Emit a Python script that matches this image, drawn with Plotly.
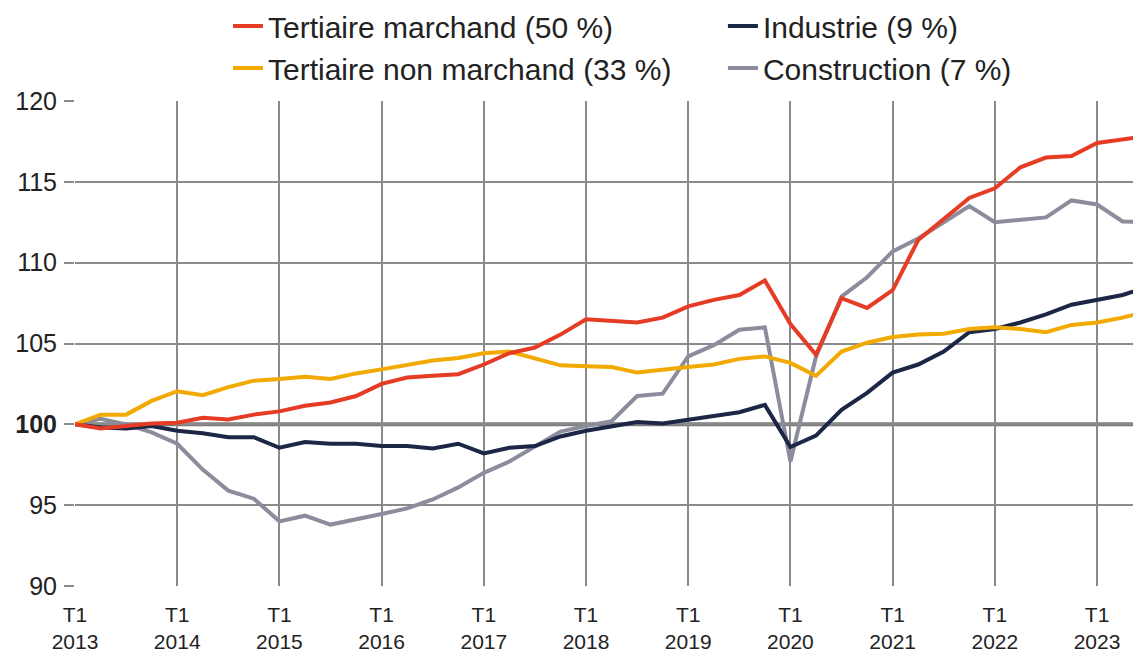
import plotly.graph_objects as go

years = list(range(2013, 2024))
quarters = [f"T{q} {y}" for y in years for q in range(1, 5)][:43]

tertiaire_marchand = [100, 99.75, 99.9, 100.05, 100.1, 100.4, 100.3, 100.6, 100.8, 101.15,
                      101.35, 101.75, 102.5, 102.9, 103.0, 103.1, 103.7, 104.4, 104.75, 105.55,
                      106.5, 106.4, 106.3, 106.6, 107.3, 107.7, 108.0, 108.9, 106.2, 104.3,
                      107.8, 107.2, 108.3, 111.4, 112.7, 114.0, 114.6, 115.9, 116.5, 116.6,
                      117.4, 117.65, 117.85]
industrie = [100, 99.8, 99.75, 99.9, 99.6, 99.45, 99.2, 99.2, 98.55, 98.9,
             98.8, 98.8, 98.66, 98.66, 98.5, 98.8, 98.2, 98.55, 98.66, 99.25,
             99.6, 99.9, 100.15, 100.05, 100.3, 100.5, 100.75, 101.2, 98.6, 99.3,
             100.9, 101.95, 103.2, 103.7, 104.5, 105.7, 105.9, 106.3, 106.8, 107.4,
             107.7, 108.0, 108.5]
tertiaire_non_marchand = [100, 100.6, 100.6, 101.45, 102.05, 101.8, 102.3, 102.7, 102.8, 102.95,
                          102.8, 103.15, 103.4, 103.7, 103.95, 104.1, 104.4, 104.5, 104.1, 103.65,
                          103.6, 103.55, 103.2, 103.4, 103.55, 103.7, 104.05, 104.2, 103.8, 103.0,
                          104.5, 105.05, 105.4, 105.55, 105.6, 105.9, 106.0, 105.9, 105.7, 106.15,
                          106.3, 106.6, 107.0]
construction = [100, 100.35, 100.0, 99.5, 98.8, 97.2, 95.9, 95.4, 94.0, 94.35,
                93.8, 94.1, 94.45, 94.8, 95.35, 96.1, 97.0, 97.7, 98.6, 99.55,
                99.9, 100.2, 101.75, 101.9, 104.2, 104.9, 105.85, 106.0, 97.7, 104.2,
                107.9, 109.1, 110.7, 111.5, 112.5, 113.5, 112.5, 112.65, 112.8, 113.85,
                113.6, 112.55, 112.5]

names = ["Tertiaire marchand (50 %)", "Industrie (9 %)",
         "Tertiaire non marchand (33 %)", "Construction (7 %)"]

y_ticks = [90, 95, 100, 105, 110, 115, 120]
y_ticktext = ["90", "95", "<b>100</b>", "105", "110", "115", "120"]
BASE = 100

x = list(range(len(quarters)))
x_tickvals = [i for i, q in enumerate(quarters) if q.startswith("T1")]
x_ticktext = [quarters[i].replace(" ", "<br>") for i in x_tickvals]

FONT = "Liberation Sans, Arial, sans-serif"

fig = go.Figure()
series = [
    (construction, names[3], "#8C8D9C", "legend4"),
    (industrie, names[1], "#1C2645", "legend2"),
    (tertiaire_non_marchand, names[2], "#F2A900", "legend3"),
    (tertiaire_marchand, names[0], "#E63B25", "legend"),
]
for vals, name, color, leg in series:
    fig.add_trace(go.Scatter(x=x, y=vals, name=name, mode="lines",
                             line=dict(color=color, width=4),
                             legend=leg, hoverinfo="skip"))

fig.add_shape(type="line", xref="paper", x0=0, x1=1, yref="y", y0=BASE, y1=BASE,
              line=dict(color="#7a7a7a", width=4), layer="below")


def leg(xp, yp):
    return dict(orientation="h", x=xp, xanchor="left", y=yp, yanchor="middle",
                font=dict(size=30, family=FONT, color="#222222"),
                bgcolor="rgba(0,0,0,0)", borderwidth=0)


fig.update_layout(
    width=1133, height=644,
    margin=dict(l=67, r=0, t=93, b=66, autoexpand=False),
    paper_bgcolor="white", plot_bgcolor="white",
    font=dict(family=FONT, color="#222222"),
    showlegend=True,
    legend=leg(0.1435, 1.1546),
    legend2=leg(0.6078, 1.1546),
    legend3=leg(0.1435, 1.068),
    legend4=leg(0.6078, 1.068),
    xaxis=dict(range=[0, 41.72], tickmode="array", tickvals=x_tickvals, ticktext=x_ticktext,
               showgrid=True, gridcolor="#8a8a8a", gridwidth=2, zeroline=False,
               showline=False, ticks="", tickfont=dict(size=21, family=FONT, color="#222222"),
               ticklabelstandoff=14),
    yaxis=dict(range=[90, 120], tickmode="array", tickvals=y_ticks, ticktext=y_ticktext,
               showgrid=True, gridcolor="#8a8a8a", gridwidth=2, zeroline=False,
               showline=False, ticks="outside", ticklen=10, tickcolor="#8a8a8a", tickwidth=2,
               ticklabelstandoff=2,
               tickfont=dict(size=25, family=FONT, color="#222222")),
)

fig.write_html("out.html")
